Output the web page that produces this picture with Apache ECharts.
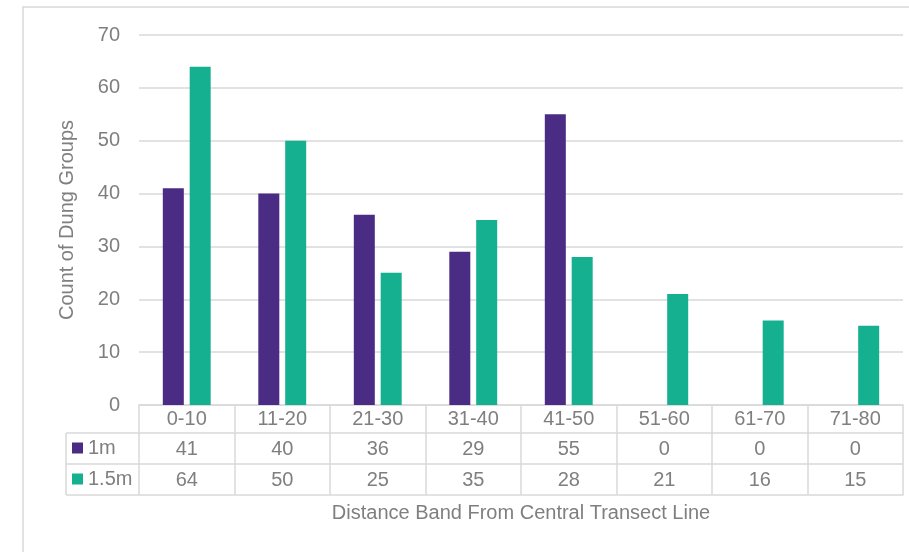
<!DOCTYPE html>
<html>
<head>
<meta charset="utf-8">
<title>Count of Dung Groups by Distance Band</title>
<script src="https://cdn.jsdelivr.net/npm/echarts@6/dist/echarts.min.js"></script>
<style>
  html, body { margin: 0; padding: 0; background: #ffffff; }
  #chart { width: 909px; height: 552px; }
</style>
</head>
<body>
<div id="chart"></div>
<script>
// Distance bands (metres from the central transect line)
const bands = ['0-10', '11-20', '21-30', '31-40', '41-50', '51-60', '61-70', '71-80'];
// Dung group counts per transect width
const seriesNames = ['1m', '1.5m'];
const oneMetre = [41, 40, 36, 29, 55, 0, 0, 0];
const oneHalfMetre = [64, 50, 25, 35, 28, 21, 16, 15];
const yTicks = { min: 0, max: 70, interval: 10 };

const colors = ['#4a2c84', '#14b08f'];
const textColor = '#7f7f7f';
const lineColor = '#d9d9d9';
const font = "'Liberation Sans', Arial, sans-serif";
const fontSize = 20;

// Layout of the plot and the data table underneath it
const W = 909, H = 552;
const gridLeft = 139, gridRight = 6, gridTop = 35, gridBottom = 147;
const rowOffsets = [0, 28, 59, 90];          // distances of the table row lines below the axis
const tableLeft = 66;
const axisY = H - gridBottom;

function rowAxis(index, formatter, tickLen, margin, extra) {
  return Object.assign({
    type: 'category',
    gridIndex: 0,
    position: 'bottom',
    offset: rowOffsets[index],
    data: bands,
    boundaryGap: true,
    axisLine: { show: true, lineStyle: { color: lineColor, width: 1.5 } },
    axisTick: { show: tickLen > 0, interval: 0, length: tickLen, lineStyle: { color: lineColor, width: 1.5 } },
    axisLabel: {
      show: !!formatter, interval: 0, margin: margin,
      color: textColor, fontFamily: font, fontSize: fontSize,
      formatter: formatter || undefined
    },
    splitLine: { show: false }
  }, extra || {});
}

const chart = echarts.init(document.getElementById('chart'), null, { renderer: 'canvas' });

// Borders of the series-name column at the left of the table
const tableLines = [
  [tableLeft, axisY + rowOffsets[1], gridLeft, axisY + rowOffsets[1]],
  [tableLeft, axisY + rowOffsets[2], gridLeft, axisY + rowOffsets[2]],
  [tableLeft, axisY + rowOffsets[3], gridLeft, axisY + rowOffsets[3]],
  [tableLeft, axisY + rowOffsets[1], tableLeft, axisY + rowOffsets[3]]
].map(([x1, y1, x2, y2]) => ({
  type: 'line',
  shape: { x1, y1, x2, y2 },
  style: { stroke: lineColor, lineWidth: 1.5 },
  silent: true
}));

chart.setOption({
  animation: false,
  backgroundColor: '#ffffff',
  color: colors,
  textStyle: { fontFamily: font },
  grid: { left: gridLeft, right: gridRight, top: gridTop, bottom: gridBottom, containLabel: false },
  legend: {
    data: seriesNames,
    orient: 'vertical',
    left: 72,
    top: 438,
    icon: 'rect',
    itemWidth: 11,
    itemHeight: 11,
    itemGap: 11,
    textStyle: { color: textColor, fontSize: fontSize, fontFamily: font, padding: [0, 0, 0, 0] },
    selectedMode: false,
    padding: 0
  },
  graphic: [
    {
      type: 'rect',
      shape: { x: 23, y: 7, width: 1000, height: 1000 },
      style: { fill: 'none', stroke: lineColor, lineWidth: 1.5 },
      silent: true,
      z: -10
    }
  ].concat(tableLines),
  xAxis: [
    rowAxis(0, v => v, 28, 4),
    rowAxis(1, (v, i) => String(oneMetre[i]), 31, 6),
    rowAxis(2, (v, i) => String(oneHalfMetre[i]), 31, 6),
    rowAxis(3, null, 0, 0, {
      name: 'Distance Band From Central Transect Line',
      nameLocation: 'middle',
      nameGap: 8,
      nameTextStyle: { color: textColor, fontSize: fontSize, fontFamily: font, verticalAlign: 'top' }
    })
  ],
  yAxis: {
    type: 'value',
    min: yTicks.min,
    max: yTicks.max,
    interval: yTicks.interval,
    name: 'Count of Dung Groups',
    nameLocation: 'middle',
    nameRotate: 90,
    nameGap: 62,
    nameTextStyle: { color: textColor, fontSize: fontSize, fontFamily: font },
    axisLine: { show: false },
    axisTick: { show: false },
    axisLabel: { color: textColor, fontSize: fontSize, fontFamily: font, margin: 19 },
    splitLine: { lineStyle: { color: lineColor, width: 1.5 } }
  },
  series: [
    {
      name: seriesNames[0],
      type: 'bar',
      xAxisIndex: 0,
      data: oneMetre,
      barWidth: 21,
      barGap: '28%',
      itemStyle: { color: colors[0] }
    },
    {
      name: seriesNames[1],
      type: 'bar',
      xAxisIndex: 0,
      data: oneHalfMetre,
      barWidth: 21,
      barGap: '28%',
      itemStyle: { color: colors[1] }
    }
  ]
});
</script>
</body>
</html>
